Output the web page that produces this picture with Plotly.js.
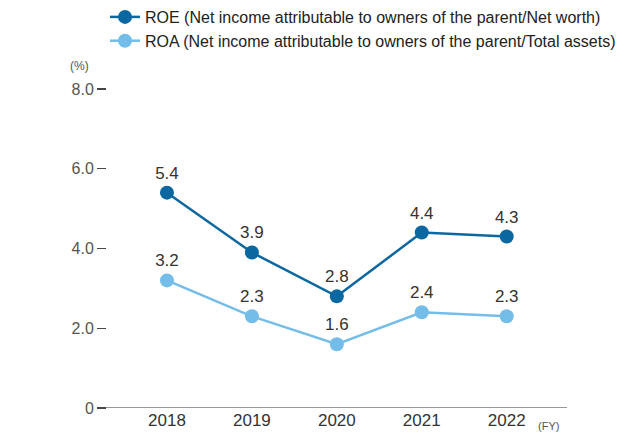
<!DOCTYPE html>
<html>
<head>
<meta charset="utf-8">
<script src="https://cdn.plot.ly/plotly-3.0.1.min.js"></script>
<style>html,body{margin:0;padding:0;background:#fff;}#chart{width:621px;height:436px;}</style>
</head>
<body>
<div id="chart"></div>
<script>
const years = ['2018', '2019', '2020', '2021', '2022'];
const roe = [5.4, 3.9, 2.8, 4.4, 4.3];
const roa = [3.2, 2.3, 1.6, 2.4, 2.3];
const roeName = 'ROE (Net income attributable to owners of the parent/Net worth)';
const roaName = 'ROA (Net income attributable to owners of the parent/Total assets)';
const yTickVals = [0, 2, 4, 6, 8];
const yTickText = ['0', '2.0', '4.0', '6.0', '8.0'];

const xIdx = years.map((_, i) => i);
const fontFam = 'Liberation Sans, Arial, sans-serif';

function trace(vals, name, color, group) {
  return {
    x: xIdx, y: vals, name: name, type: 'scatter', mode: 'lines+markers+text',
    legendgroup: group,
    line: {color: color, width: 2.5},
    marker: {color: color, size: 14},
    text: vals.map(v => v.toFixed(1)),
    textposition: 'top center',
    textfont: {size: 17, color: '#333', family: fontFam},
    cliponaxis: false,
    hoverinfo: 'skip'
  };
}

const data = [trace(roe, roeName, '#0a67a0', 'a'), trace(roa, roaName, '#74bde9', 'b')];

const layout = {
  width: 621, height: 436,
  margin: {l: 107, r: 54, t: 88, b: 28},
  paper_bgcolor: '#fff', plot_bgcolor: '#fff',
  font: {family: fontFam, color: '#333'},
  showlegend: true,
  legend: {
    x: 0.0, xanchor: 'left', yref: 'container', y: 1.0, yanchor: 'top',
    font: {size: 16, color: '#222', family: fontFam},
    traceorder: 'grouped', tracegroupgap: 0, itemwidth: 30, bgcolor: 'rgba(0,0,0,0)'
  },
  xaxis: {
    range: [-0.706, 4.71], tickmode: 'array', tickvals: xIdx, ticktext: years,
    showgrid: false, zeroline: false, showline: false,
    ticks: '', tickfont: {size: 17, color: '#333', family: fontFam}, fixedrange: true
  },
  yaxis: {
    range: [0, 8.025], tickmode: 'array', tickvals: yTickVals, ticktext: yTickText,
    showgrid: false, zeroline: false, showline: false,
    ticks: 'outside', ticklen: 9, tickcolor: '#444', tickwidth: 1.2,
    tickfont: {size: 16, color: '#555', family: fontFam}, fixedrange: true
  },
  shapes: [
    {type: 'line', xref: 'paper', yref: 'y', x0: -10 / 460, x1: 1, y0: 0, y1: 0,
     line: {color: '#333', width: 1.2}, layer: 'below'}
  ],
  annotations: [
    {text: '(%)', xref: 'paper', yref: 'paper', x: -0.06, y: 1.07, xanchor: 'center', yanchor: 'middle',
     showarrow: false, font: {size: 12, color: '#555', family: fontFam}},
    {text: '(FY)', xref: 'paper', yref: 'paper', x: 0.96, y: -0.055, xanchor: 'center', yanchor: 'middle',
     showarrow: false, font: {size: 11, color: '#555', family: fontFam}}
  ]
};

Plotly.newPlot('chart', data, layout, {displayModeBar: false, staticPlot: true});
</script>
</body>
</html>
